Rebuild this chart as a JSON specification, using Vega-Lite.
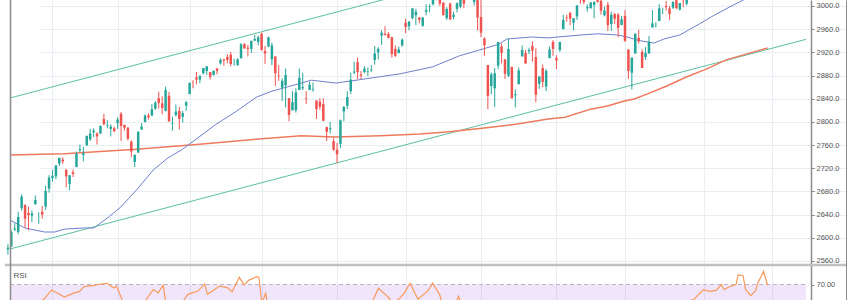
{
"$schema": "https://vega.github.io/schema/vega-lite/v6.json",
"width": 841, "height": 300,
"autosize": {"type": "none"},
"padding": {"left": 5, "right": 4, "top": 0, "bottom": 0},
"background": "white",
"config": {"view": {"stroke": null}, "font": "Liberation Sans"},
"datasets": {
"candles": [
{"i":0,"o":2580,"h":2589,"l":2571,"c":2583},{"i":1,"o":2585,"h":2613,"l":2585,"c":2610},{"i":2,"o":2614,"h":2625,"l":2612,"c":2616},{"i":3,"o":2610,"h":2645,"l":2606,"c":2636},{"i":4,"o":2651,"h":2675,"l":2647,"c":2671},{"i":5,"o":2657,"h":2657,"l":2617,"c":2633},{"i":6,"o":2643,"h":2654,"l":2613,"c":2639},{"i":7,"o":2638,"h":2647,"l":2627,"c":2642},{"i":8,"o":2658,"h":2673,"l":2657,"c":2665},{"i":9,"o":2644,"h":2644,"l":2624,"c":2644},{"i":10,"o":2645,"h":2655,"l":2633,"c":2640},{"i":11,"o":2654,"h":2690,"l":2648,"c":2681},{"i":12,"o":2685,"h":2708,"l":2678,"c":2704},
{"i":13,"o":2703,"h":2717,"l":2697,"c":2707},{"i":14,"o":2706,"h":2725,"l":2701,"c":2725},{"i":15,"o":2728,"h":2738,"l":2724,"c":2738},{"i":16,"o":2735,"h":2739,"l":2727,"c":2732},{"i":17,"o":2717,"h":2719,"l":2687,"c":2706},{"i":18,"o":2693,"h":2708,"l":2682,"c":2708},{"i":19,"o":2713,"h":2718,"l":2705,"c":2710},{"i":20,"o":2722,"h":2749,"l":2722,"c":2745},{"i":21,"o":2751,"h":2761,"l":2748,"c":2753},{"i":22,"o":2743,"h":2757,"l":2732,"c":2746},{"i":23,"o":2760,"h":2776,"l":2758,"c":2776},{"i":24,"o":2770,"h":2788,"l":2767,"c":2780},{"i":25,"o":2782,"h":2789,"l":2774,"c":2785},{"i":26,"o":2780,"h":2782,"l":2761,"c":2775},{"i":27,"o":2780,"h":2794,"l":2779,"c":2793},{"i":28,"o":2805,"h":2814,"l":2794,"c":2796},{"i":29,"o":2793,"h":2803,"l":2789,"c":2794},{"i":30,"o":2788,"h":2796,"l":2775,"c":2792},{"i":31,"o":2789,"h":2792,"l":2782,"c":2784},
{"i":32,"o":2798,"h":2808,"l":2788,"c":2804},{"i":33,"o":2814,"h":2817,"l":2767,"c":2793},{"i":34,"o":2795,"h":2795,"l":2785,"c":2790},{"i":35,"o":2790,"h":2791,"l":2768,"c":2771},{"i":36,"o":2766,"h":2768,"l":2739,"c":2749},{"i":37,"o":2731,"h":2744,"l":2722,"c":2743},{"i":38,"o":2747,"h":2784,"l":2747,"c":2783},{"i":39,"o":2787,"h":2798,"l":2786,"c":2792},{"i":40,"o":2800,"h":2813,"l":2799,"c":2811},{"i":41,"o":2811,"h":2815,"l":2804,"c":2808},{"i":42,"o":2811,"h":2831,"l":2810,"c":2822},{"i":43,"o":2823,"h":2836,"l":2821,"c":2833},{"i":44,"o":2841,"h":2852,"l":2823,"c":2833},{"i":45,"o":2832,"h":2844,"l":2813,"c":2824},{"i":46,"o":2819,"h":2861,"l":2818,"c":2855},{"i":47,"o":2845,"h":2852,"l":2800,"c":2801},{"i":48,"o":2797,"h":2809,"l":2785,"c":2798},{"i":49,"o":2812,"h":2830,"l":2809,"c":2818},{"i":50,"o":2819,"h":2826,"l":2787,"c":2805},{"i":51,"o":2809,"h":2819,"l":2799,"c":2815},{"i":52,"o":2828,"h":2836,"l":2819,"c":2834},
{"i":53,"o":2848,"h":2868,"l":2848,"c":2867},{"i":54,"o":2868,"h":2872,"l":2858,"c":2867.5},{"i":55,"o":2877,"h":2886,"l":2865,"c":2873},{"i":56,"o":2873,"h":2881,"l":2867,"c":2879},{"i":57,"o":2884,"h":2893,"l":2882,"c":2893},{"i":58,"o":2888,"h":2896,"l":2881,"c":2896},{"i":59,"o":2886,"h":2886,"l":2873,"c":2878},{"i":60,"o":2881,"h":2889,"l":2880,"c":2888},{"i":61,"o":2892,"h":2893,"l":2882,"c":2888},{"i":62,"o":2901,"h":2910,"l":2899,"c":2907},{"i":63,"o":2908,"h":2909,"l":2897,"c":2906},{"i":64,"o":2912,"h":2917,"l":2901,"c":2907},{"i":65,"o":2916,"h":2921,"l":2896,"c":2900},{"i":66,"o":2905,"h":2909,"l":2897,"c":2905},{"i":67,"o":2898,"h":2910,"l":2897,"c":2908},{"i":68,"o":2910,"h":2936,"l":2909,"c":2934},{"i":69,"o":2934,"h":2936,"l":2926,"c":2927},{"i":70,"o":2928,"h":2933,"l":2913,"c":2926},{"i":71,"o":2926,"h":2940,"l":2919,"c":2940},{"i":72,"o":2940,"h":2950,"l":2940,"c":2943},{"i":73,"o":2938,"h":2949,"l":2932,"c":2946},
{"i":74,"o":2952,"h":2954,"l":2923,"c":2924},{"i":75,"o":2922,"h":2931,"l":2900,"c":2918},{"i":76,"o":2930,"h":2947,"l":2929,"c":2946},{"i":77,"o":2908,"h":2937,"l":2898,"c":2932},{"i":78,"o":2913,"h":2913,"l":2862,"c":2884},{"i":79,"o":2880,"h":2898,"l":2871,"c":2879},{"i":80,"o":2859,"h":2875,"l":2836,"c":2871},{"i":81,"o":2863,"h":2892,"l":2825,"c":2881},{"i":82,"o":2841,"h":2841,"l":2801,"c":2812},{"i":83,"o":2820,"h":2853,"l":2820,"c":2834},{"i":84,"o":2820,"h":2858,"l":2816,"c":2851},{"i":85,"o":2855,"h":2892,"l":2855,"c":2876},{"i":86,"o":2858,"h":2885,"l":2855,"c":2860},{"i":87,"o":2841,"h":2853,"l":2831,"c":2840},{"i":88,"o":2855,"h":2869,"l":2855,"c":2864},{"i":89,"o":2856,"h":2868,"l":2852,"c":2857},{"i":90,"o":2837,"h":2837,"l":2805,"c":2822},{"i":91,"o":2835,"h":2841,"l":2821,"c":2826},{"i":92,"o":2831,"h":2841,"l":2801,"c":2802},{"i":93,"o":2791,"h":2792,"l":2767,"c":2783},{"i":94,"o":2787,"h":2800,"l":2780,"c":2789},{"i":95,"o":2767,"h":2772,"l":2750,"c":2752},
{"i":96,"o":2752,"h":2764,"l":2729,"c":2744},{"i":97,"o":2762,"h":2804,"l":2755,"c":2803},{"i":98,"o":2818,"h":2827,"l":2801,"c":2826},{"i":99,"o":2828,"h":2853,"l":2822,"c":2843},{"i":100,"o":2853,"h":2885,"l":2848,"c":2873},{"i":101,"o":2885,"h":2904,"l":2882,"c":2887},{"i":102,"o":2903,"h":2911,"l":2874,"c":2886},{"i":103,"o":2882,"h":2888,"l":2874,"c":2880},{"i":104,"o":2886,"h":2896,"l":2884,"c":2892},{"i":105,"o":2886,"h":2894,"l":2879,"c":2887},{"i":106,"o":2889,"h":2898,"l":2886,"c":2890},{"i":107,"o":2907,"h":2931,"l":2899,"c":2918},{"i":108,"o":2920,"h":2929,"l":2908,"c":2926},{"i":109,"o":2949,"h":2958,"l":2933,"c":2954},{"i":110,"o":2952,"h":2965,"l":2949,"c":2950},{"i":111,"o":2952,"h":2955,"l":2944,"c":2945},{"i":112,"o":2946,"h":2947,"l":2911,"c":2917},{"i":113,"o":2926,"h":2932,"l":2912,"c":2914},{"i":114,"o":2919,"h":2930,"l":2918,"c":2925},{"i":115,"o":2932,"h":2944,"l":2930,"c":2942},
{"i":116,"o":2971,"h":2978,"l":2953,"c":2964},{"i":117,"o":2965,"h":2974,"l":2958,"c":2973},{"i":118,"o":2979,"h":2996,"l":2977,"c":2996},{"i":119,"o":2984,"h":2995,"l":2967,"c":2990},{"i":120,"o":2980,"h":2981,"l":2970,"c":2976},{"i":121,"o":2966,"h":2981,"l":2964,"c":2980},{"i":122,"o":2990,"h":3003,"l":2984,"c":2993},{"i":123,"o":2999,"h":3003,"l":2989,"c":3000},{"i":124,"o":3003,"h":3014,"l":3001,"c":3014},{"i":125,"o":3018,"h":3018,"l":3010,"c":3014},{"i":126,"o":3013,"h":3018,"l":3000,"c":3004},{"i":127,"o":3006,"h":3006,"l":2984,"c":2984},{"i":128,"o":2979,"h":2998,"l":2976,"c":2995},{"i":129,"o":3004,"h":3006,"l":2976,"c":2977},{"i":130,"o":2981,"h":2990,"l":2977,"c":2985},{"i":131,"o":2995,"h":3006,"l":2989,"c":3005},{"i":132,"o":2999,"h":3020,"l":2996,"c":3020},{"i":133,"o":3017,"h":3017,"l":2996,"c":3004},{"i":134,"o":3013,"h":3028,"l":3012,"c":3026},{"i":135,"o":3025,"h":3026,"l":3014,"c":3021},{"i":136,"o":3007,"h":3018,"l":3001,"c":3013},{"i":137,"o":3017,"h":3017,"l":2958,"c":2980},
{"i":138,"o":2981,"h":3014,"l":2946,"c":2954},{"i":139,"o":2944,"h":2946,"l":2914,"c":2932},{"i":140,"o":2898,"h":2898,"l":2822,"c":2845},{"i":141,"o":2862,"h":2885,"l":2848,"c":2882},{"i":142,"o":2858,"h":2893,"l":2826,"c":2884},{"i":143,"o":2897,"h":2938,"l":2891,"c":2938},{"i":144,"o":2930,"h":2935,"l":2901,"c":2919},{"i":145,"o":2908,"h":2908,"l":2874,"c":2883},{"i":146,"o":2880,"h":2944,"l":2877,"c":2926},{"i":147,"o":2895,"h":2895,"l":2840,"c":2841},{"i":148,"o":2846,"h":2856,"l":2825,"c":2848},{"i":149,"o":2865,"h":2894,"l":2865,"c":2889},{"i":150,"o":2913,"h":2932,"l":2913,"c":2924},{"i":151,"o":2919,"h":2924,"l":2900,"c":2901},{"i":152,"o":2922,"h":2928,"l":2917,"c":2924},{"i":153,"o":2931,"h":2939,"l":2904,"c":2923},{"i":154,"o":2912,"h":2927,"l":2834,"c":2847},{"i":155,"o":2866,"h":2879,"l":2857,"c":2878},{"i":156,"o":2893,"h":2899,"l":2860,"c":2869},{"i":157,"o":2861,"h":2891,"l":2853,"c":2888},{"i":158,"o":2910,"h":2930,"l":2910,"c":2925},{"i":159,"o":2938,"h":2941,"l":2914,"c":2926},
{"i":160,"o":2910,"h":2915,"l":2891,"c":2906},{"i":161,"o":2924,"h":2938,"l":2921,"c":2938},{"i":162,"o":2960,"h":2985,"l":2960,"c":2976},{"i":163,"o":2980,"h":2985,"l":2973,"c":2979},{"i":164,"o":2988,"h":2990,"l":2967,"c":2978},{"i":165,"o":2971,"h":2979,"l":2958,"c":2979},{"i":166,"o":2982,"h":3001,"l":2976,"c":3001},{"i":167,"o":3019,"h":3021,"l":3004,"c":3010},{"i":168,"o":3013,"h":3017,"l":3003,"c":3007},{"i":169,"o":2996,"h":3003,"l":2990,"c":2998},{"i":170,"o":2996,"h":3007,"l":2996,"c":3006},{"i":171,"o":3002,"h":3008,"l":2979,"c":3007},{"i":172,"o":3010,"h":3022,"l":3006,"c":3007},{"i":173,"o":3009,"h":3016,"l":2985,"c":2992},{"i":174,"o":2984,"h":2999,"l":2982,"c":2992},{"i":175,"o":3002,"h":3007,"l":2957,"c":2967},{"i":176,"o":2969,"h":2990,"l":2957,"c":2985},{"i":177,"o":2986,"h":2988,"l":2969,"c":2978},{"i":178,"o":2985,"h":2988,"l":2946,"c":2962},{"i":179,"o":2967,"h":2983,"l":2967,"c":2977},
{"i":180,"o":2983,"h":2993,"l":2938,"c":2940},{"i":181,"o":2925,"h":2925,"l":2874,"c":2888},{"i":182,"o":2885,"h":2911,"l":2856,"c":2911},{"i":183,"o":2918,"h":2953,"l":2918,"c":2952},{"i":184,"o":2945,"h":2959,"l":2935,"c":2939},{"i":185,"o":2921,"h":2925,"l":2893,"c":2893},{"i":186,"o":2912,"h":2929,"l":2907,"c":2919},{"i":187,"o":2918,"h":2948,"l":2918,"c":2938},{"i":188,"o":2963,"h":2993,"l":2963,"c":2970},{"i":189,"o":2966,"h":2972,"l":2963,"c":2966.5},{"i":190,"o":2974,"h":3003,"l":2974,"c":2996},{"i":191,"o":2990,"h":2997,"l":2986,"c":2990},{"i":192,"o":3000,"h":3009,"l":2992,"c":2998},{"i":193,"o":2996,"h":3000,"l":2976,"c":2986},{"i":194,"o":2997,"h":3008,"l":2995,"c":3007},{"i":195,"o":3010,"h":3015,"l":2995,"c":2996},{"i":196,"o":2994,"h":3005,"l":2992,"c":3005},{"i":197,"o":3014,"h":3016,"l":2998,"c":3010},{"i":198,"o":3004,"h":3028,"l":3001,"c":3023},{"i":199,"o":3033,"h":3044,"l":3033,"c":3040},{"i":200,"o":3036,"h":3047,"l":3032,"c":3036.5},{"i":201,"o":3039,"h":3050,"l":3026,"c":3047},{"i":202,"o":3046,"h":3047,"l":3023,"c":3038}
],
"sma50": [
{"i":0.61,"v":2630.7},{"i":4.9,"v":2617},{"i":10.7,"v":2610},{"i":13.6,"v":2610},{"i":16.5,"v":2615},{"i":22.2,"v":2617},{"i":25.1,"v":2617},{"i":29.4,"v":2636},{"i":32.9,"v":2653},{"i":37.5,"v":2682.5},{"i":42.4,"v":2717},{"i":46.7,"v":2738},{"i":51,"v":2753},{"i":60.5,"v":2795},{"i":66.3,"v":2817},{"i":72.6,"v":2843},{"i":77,"v":2853},{"i":85.6,"v":2867},{"i":88.5,"v":2872},{"i":95.7,"v":2867},{"i":100,"v":2870.6},{"i":114.4,"v":2883},{"i":123.9,"v":2895},{"i":131.7,"v":2914},{"i":137.5,"v":2924},{"i":143.2,"v":2934},{"i":145.5,"v":2943},{"i":152.7,"v":2946.5},{"i":157.6,"v":2945},{"i":167.1,"v":2950},{"i":172,"v":2952},{"i":177.8,"v":2950},{"i":180.7,"v":2946.5},{"i":183.6,"v":2941},{"i":188.5,"v":2936},{"i":191.3,"v":2943},{"i":196,"v":2950},{"i":201.7,"v":2969},{"i":205.7,"v":2983},{"i":210.4,"v":2998},{"i":214.4,"v":3010},{"i":218,"v":3020},{"i":222,"v":3030}
],
"sma200": [
{"i":0.61,"v":2743},{"i":16.5,"v":2745},{"i":37.5,"v":2753},{"i":56.8,"v":2762},{"i":74.1,"v":2771},{"i":85.6,"v":2776},{"i":95.1,"v":2774},{"i":108.7,"v":2776},{"i":120.2,"v":2779},{"i":128.8,"v":2783},{"i":138.3,"v":2789},{"i":148.1,"v":2796},{"i":157.6,"v":2805},{"i":162.5,"v":2808},{"i":170,"v":2822},{"i":174.9,"v":2827.4},{"i":179.8,"v":2836},{"i":182.7,"v":2839.5},{"i":186.4,"v":2848},{"i":192.2,"v":2862},{"i":197.9,"v":2877.5},{"i":203.7,"v":2891},{"i":209.5,"v":2907},{"i":215.3,"v":2917},{"i":221.6,"v":2927.5}
],
"channel": [
{"line":"upper","i":0.61,"p":2841.2},{"line":"upper","i":120,"p":3027.2},
{"line":"lower","i":0.61,"p":2580.7},{"line":"lower","i":232.8,"p":2942.5}
],
"rsi": [
{"i":0,"r":52},{"i":3,"r":56},{"i":5,"r":53},{"i":8,"r":57},{"i":10.7,"r":61},{"i":12.7,"r":66.5},{"i":14.4,"r":64.6},{"i":16.5,"r":62},{"i":19.3,"r":64.6},{"i":20.8,"r":65.4},{"i":22.2,"r":68.6},{"i":25.1,"r":69.5},{"i":27.1,"r":70.3},{"i":28.9,"r":70.8},{"i":30.9,"r":67.8},{"i":31.7,"r":69},{"i":32.9,"r":62.5},{"i":34.3,"r":55},{"i":36.5,"r":46},{"i":38.5,"r":52},{"i":40.4,"r":60.5},{"i":42.4,"r":66.8},{"i":43.8,"r":64.6},{"i":45.3,"r":69.6},{"i":46.1,"r":58},{"i":47.5,"r":50},{"i":50,"r":56},{"i":52.5,"r":63.7},{"i":55.4,"r":65.8},{"i":57.4,"r":70.2},{"i":58.2,"r":63.7},{"i":59.7,"r":65.8},{"i":61.7,"r":69},{"i":64,"r":68},{"i":65.4,"r":65.4},{"i":67.5,"r":74.6},{"i":68.9,"r":69.6},{"i":70.3,"r":72.8},{"i":72.6,"r":75},{"i":73.2,"r":74.5},{"i":74.1,"r":58},{"i":75.2,"r":64.5},{"i":76.1,"r":52},{"i":78,"r":42},{"i":82,"r":35},{"i":86,"r":45},{"i":90,"r":40},{"i":95,"r":30},{"i":100,"r":50},{"i":104,"r":58},{"i":106.5,"r":60},{"i":108.1,"r":67.6},{"i":110.7,"r":62.4},{"i":112.4,"r":58},{"i":114.4,"r":61.4},{"i":115.6,"r":64.5},{"i":117.3,"r":70.8},{"i":119.6,"r":60.6},{"i":122.5,"r":65.9},{"i":123.9,"r":70.8},{"i":125.9,"r":63.7},{"i":127.1,"r":55},{"i":129.5,"r":52},{"i":131.4,"r":62.4},{"i":132.9,"r":55},{"i":136,"r":45},{"i":140,"r":28},{"i":145,"r":42},{"i":150,"r":50},{"i":154,"r":40},{"i":158,"r":48},{"i":163,"r":58},{"i":168,"r":59},{"i":172,"r":55},{"i":176,"r":50},{"i":179,"r":52},{"i":182,"r":36},{"i":186,"r":42},{"i":190,"r":55},{"i":194,"r":57},{"i":198,"r":59},{"i":200,"r":60.3},{"i":202.9,"r":66.7},{"i":204.6,"r":65.6},{"i":206.6,"r":66.2},{"i":208.1,"r":70},{"i":208.9,"r":66.7},{"i":210.4,"r":68.6},{"i":212.4,"r":70},{"i":213,"r":76.2},{"i":214.4,"r":75.8},{"i":215.2,"r":66.7},{"i":216.7,"r":62.9},{"i":218.1,"r":66},{"i":218.7,"r":70.7},{"i":220.4,"r":78.4},{"i":221.6,"r":69.5}
]
},
"layer": [
 {"data": {"values": [{"i0": 0.61, "i1": 232.8, "top": 70, "bottom": 30}]}, "mark": {"type": "rect", "color": "#8a2be2", "opacity": 0.12, "clip": true},
  "encoding": {
   "x": {"field": "i0", "type": "quantitative", "title": null, "scale": {"domain": [0.61, 232.8], "range": [0, 806], "nice": false, "zero": false}},
   "x2": {"field": "i1"},
   "y": {"field": "top", "type": "quantitative", "title": null, "scale": {"domain": [60.08, 252.1], "nice": false, "zero": false}, "axis": null},
   "y2": {"field": "bottom"}}},
 {"data": {"name": "channel"}, "mark": {"type": "line", "color": "#5cbfa0", "strokeWidth": 1, "clip": true},
  "encoding": {
   "x": {"field": "i", "type": "quantitative", "title": null, "scale": {"domain": [0.61, 232.8], "range": [0, 806], "nice": false, "zero": false},
    "axis": {"values": [13,32,53,74,96,116,138,160,180,203,223], "grid": true, "gridColor": "#e9eef4", "gridWidth": 1, "labels": false, "ticks": false, "domain": false, "title": null}},
   "y": {"field": "p", "type": "quantitative", "title": null, "scale": {"domain": [2492.7, 3010.35], "nice": false, "zero": false},
    "axis": {"orient": "right", "offset": -35, "values": [2560,2600,2640,2680,2720,2760,2800,2840,2880,2920,2960,3000], "format": ".1f", "labelFontSize": 7.5, "labelColor": "#555555", "tickSize": 3, "tickColor": "#888888", "labelPadding": 2, "domainColor": "#8c8c8c", "domainWidth": 1.5, "grid": true, "gridColor": "#e9eef4", "title": null}},
   "detail": {"field": "line"}}},
 {"data": {"name": "sma200"}, "mark": {"type": "line", "color": "#ee7a5e", "strokeWidth": 1.5, "clip": true},
  "encoding": {
   "x": {"field": "i", "type": "quantitative", "title": null, "scale": {"domain": [0.61, 232.8], "range": [0, 806], "nice": false, "zero": false}},
   "y": {"field": "v", "type": "quantitative", "title": null, "scale": {"domain": [2492.7, 3010.35], "nice": false, "zero": false}, "axis": null}}},
 {"data": {"name": "sma50"}, "mark": {"type": "line", "color": "#6f80cc", "strokeWidth": 1, "clip": true},
  "encoding": {
   "x": {"field": "i", "type": "quantitative", "title": null, "scale": {"domain": [0.61, 232.8], "range": [0, 806], "nice": false, "zero": false}},
   "y": {"field": "v", "type": "quantitative", "title": null, "scale": {"domain": [2492.7, 3010.35], "nice": false, "zero": false}, "axis": null}}},
 {"data": {"name": "candles"}, "mark": {"type": "rule", "strokeWidth": 1, "clip": true},
  "encoding": {
   "x": {"field": "i", "type": "quantitative", "title": null, "scale": {"domain": [0.61, 232.8], "range": [0, 806], "nice": false, "zero": false}},
   "y": {"field": "l", "type": "quantitative", "title": null, "scale": {"domain": [2492.7, 3010.35], "nice": false, "zero": false}, "axis": null},
   "y2": {"field": "h"},
   "color": {"condition": {"test": "datum.c >= datum.o", "value": "#26a69a"}, "value": "#ef5350"}}},
 {"data": {"name": "candles"}, "mark": {"type": "bar", "size": 2.5, "clip": true},
  "encoding": {
   "x": {"field": "i", "type": "quantitative", "title": null, "scale": {"domain": [0.61, 232.8], "range": [0, 806], "nice": false, "zero": false}},
   "y": {"field": "o", "type": "quantitative", "title": null, "scale": {"domain": [2492.7, 3010.35], "nice": false, "zero": false}, "axis": null},
   "y2": {"field": "c"},
   "color": {"condition": {"test": "datum.c >= datum.o", "value": "#26a69a"}, "value": "#ef5350"}}},
 {"data": {"values": [{"p": 2553.1}]}, "mark": {"type": "rule", "color": "#c0c0c0", "strokeWidth": 2.5},
  "encoding": {
   "y": {"field": "p", "type": "quantitative", "title": null, "scale": {"domain": [2492.7, 3010.35], "nice": false, "zero": false}, "axis": null}}},
 {"data": {"values": [{"i0": 0.61, "i1": 232.8, "r": 70}]}, "mark": {"type": "rule", "color": "#bdb3c8", "strokeWidth": 1, "strokeDash": [4, 3]},
  "encoding": {
   "x": {"field": "i0", "type": "quantitative", "title": null, "scale": {"domain": [0.61, 232.8], "range": [0, 806], "nice": false, "zero": false}},
   "x2": {"field": "i1"},
   "y": {"field": "r", "type": "quantitative", "title": null, "scale": {"domain": [60.08, 252.1], "nice": false, "zero": false},
    "axis": {"orient": "right", "offset": -35, "values": [70], "format": ".2f", "labelFontSize": 7.5, "labelColor": "#555555", "tickSize": 3, "tickColor": "#888888", "labelPadding": 2, "domain": false, "grid": false, "title": null}}}},
 {"data": {"name": "rsi"}, "mark": {"type": "line", "color": "#f79a5a", "strokeWidth": 1.2, "clip": true},
  "encoding": {
   "x": {"field": "i", "type": "quantitative", "title": null, "scale": {"domain": [0.61, 232.8], "range": [0, 806], "nice": false, "zero": false}},
   "y": {"field": "r", "type": "quantitative", "title": null, "scale": {"domain": [60.08, 252.1], "nice": false, "zero": false}, "axis": null}}},
 {"data": {"values": [{"i": 1.6, "r": 75.4, "label": "RSI"}]}, "mark": {"type": "text", "align": "left", "baseline": "middle", "fontSize": 8, "color": "#555555"},
  "encoding": {
   "x": {"field": "i", "type": "quantitative", "title": null, "scale": {"domain": [0.61, 232.8], "range": [0, 806], "nice": false, "zero": false}},
   "y": {"field": "r", "type": "quantitative", "title": null, "scale": {"domain": [60.08, 252.1], "nice": false, "zero": false}, "axis": null},
   "text": {"field": "label"}}},
 {"data": {"values": [{"i": 0.76}]}, "mark": {"type": "rule", "color": "#8c8c8c", "strokeWidth": 1.5},
  "encoding": {
   "x": {"field": "i", "type": "quantitative", "title": null, "scale": {"domain": [0.61, 232.8], "range": [0, 806], "nice": false, "zero": false}}}},
 {"data": {"values": [{"v": 0}]}, "mark": {"type": "point", "opacity": 0},
  "encoding": {
   "y": {"field": "v", "type": "quantitative", "title": null, "scale": {"domain": [0, 1], "nice": false, "zero": false},
    "axis": {"orient": "right", "labels": false, "ticks": false, "grid": false, "domain": true, "domainColor": "#8c8c8c", "domainWidth": 1, "title": null}}}}
],
"resolve": {"scale": {"y": "independent"}}
}
